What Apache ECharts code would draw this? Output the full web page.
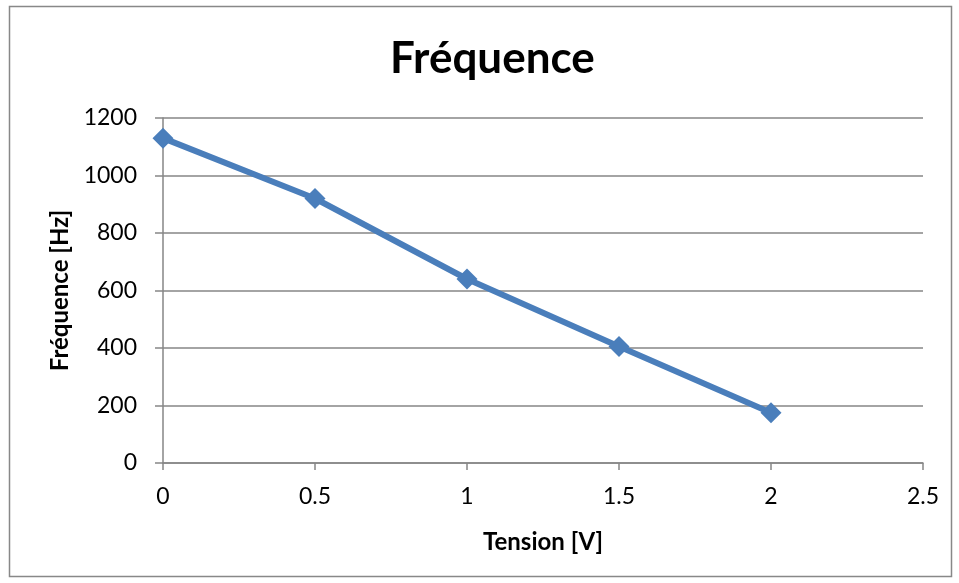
<!DOCTYPE html>
<html><head><meta charset="utf-8">
<script src="https://cdn.jsdelivr.net/npm/echarts@6/dist/echarts.min.js"></script>
<style>html,body{margin:0;padding:0;background:#fff}#c{width:959px;height:583px}</style>
</head><body><div id="c"></div>
<script>
const tension = [0, 0.5, 1, 1.5, 2];
const frequence = [1130, 920, 640, 405, 175];
const titleText = 'Fréquence';
const xName = 'Tension [V]';
const yName = 'Fréquence [Hz]';

const chart = echarts.init(document.getElementById('c'), null, {renderer: 'canvas'});
const font = 'Lato, Open Sans, sans-serif';
chart.setOption({
  animation: false,
  backgroundColor: '#fff',
  graphic: [{type: 'rect', shape: {x: 9.5, y: 6.5, width: 942, height: 570}, style: {fill: 'none', stroke: '#888', lineWidth: 1.5}}],
  title: {text: titleText, left: 385, top: 32, textStyle: {fontFamily: font, fontSize: 44, fontWeight: 'bold', color: '#000'}},
  grid: {left: 163, right: 36, top: 118, bottom: 120},
  xAxis: {
    type: 'value', min: 0, max: 2.5, interval: 0.5,
    name: xName, nameLocation: 'middle', nameGap: 67,
    nameTextStyle: {fontFamily: font, fontSize: 24, fontWeight: 'bold', color: '#000'},
    axisLine: {show: true, lineStyle: {color: '#868686', width: 1.5}},
    axisTick: {show: true, length: 7, lineStyle: {color: '#868686', width: 1.5}},
    axisLabel: {fontFamily: font, fontSize: 23, color: '#000', margin: 22, formatter: v => String(v)},
    splitLine: {show: false}
  },
  yAxis: {
    type: 'value', min: 0, max: 1200, interval: 200,
    name: yName, nameLocation: 'middle', nameGap: 90,
    nameTextStyle: {fontFamily: font, fontSize: 24, fontWeight: 'bold', color: '#000'},
    axisLine: {show: true, lineStyle: {color: '#868686', width: 1.5}},
    axisTick: {show: true, length: 8, lineStyle: {color: '#868686', width: 1.5}},
    axisLabel: {fontFamily: font, fontSize: 23, color: '#000', margin: 26, formatter: v => String(v)},
    splitLine: {show: true, lineStyle: {color: '#868686', width: 1.5}}
  },
  series: [{
    type: 'line',
    data: tension.map((t, i) => [t, frequence[i]]),
    symbol: 'diamond', symbolSize: 21,
    lineStyle: {color: '#4a7ebb', width: 6},
    itemStyle: {color: '#4a7ebb'}
  }]
});
</script></body></html>
